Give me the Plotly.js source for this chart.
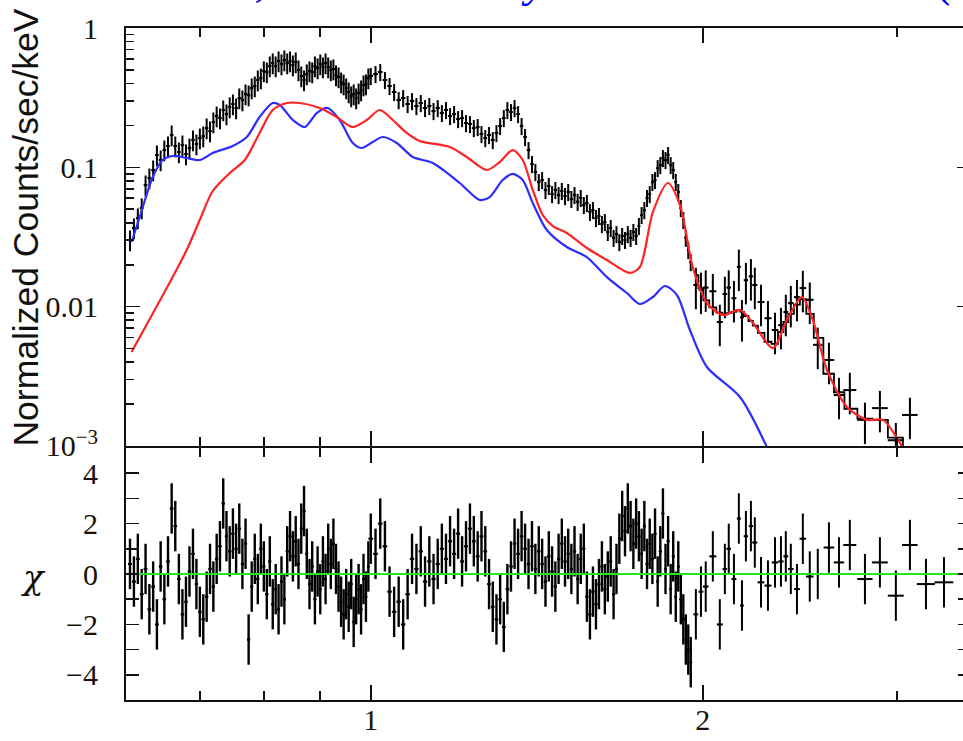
<!DOCTYPE html>
<html><head><meta charset="utf-8">
<script src="https://cdn.plot.ly/plotly-3.0.1.min.js"></script>
<style>html,body{margin:0;padding:0;overflow:hidden;background:#fff}#plot{width:980px;height:741px}</style>
</head><body><div id="plot"></div>
<script>
// ---- energy grid (keV), bin centres ----
const energyA = [0.605,0.610,0.615,0.620,0.625,0.630,0.635,0.640,0.645,0.650,0.655,0.660,0.665,0.670,0.675,0.680,0.685,0.690,0.695,0.700,0.705,0.710,0.715,0.720,0.725,0.730,0.735,0.740,0.745,0.750,0.755,0.760,0.765,0.770,0.775,0.780,0.785,0.790,0.795,0.800,0.805,0.810,0.815,0.820,0.825,0.830,0.835,0.840,0.845,0.850,0.855,0.860,0.865,0.870,0.875,0.880,0.885,0.890,0.895,0.900,0.905,0.910,0.915,0.920,0.925,0.930,0.935,0.940,0.945,0.950,0.955,0.960,0.965,0.970,0.975,0.980,0.985,0.990,0.995];
const halfWidthA = 0.0025;
const countsA = [0.0301,0.0367,0.0433,0.0511,0.0747,0.0839,0.0957,0.1226,0.1129,0.1331,
0.1422,0.1706,0.1422,0.1289,0.1446,0.1247,0.1376,0.1570,0.1470,0.1623,
0.1678,0.1916,0.1822,0.2115,0.2335,0.2259,0.2579,0.2414,0.2710,0.2848,
0.2665,0.3146,0.3042,0.3360,0.3304,0.3710,0.3835,0.4234,0.4376,0.4920,
0.4837,0.5340,0.5610,0.5340,0.5800,0.5520,0.5890,0.5610,0.5800,0.5427,
0.5700,0.5000,0.4525,0.4234,0.4677,0.4920,0.4837,0.5340,0.5170,0.5520,
0.5250,0.5610,0.5250,0.5000,0.5080,0.4600,0.4453,0.4096,0.3963,0.3710,
0.3472,0.3251,0.3360,0.3146,0.3415,0.3590,0.3899,0.3963,0.4376];
const chiA = [0.4,-0.3,0.6,-0.8,0.2,-1.4,-0.5,-2.0,0.3,-1.0,
0.5,2.6,1.9,-0.2,-1.6,-1.1,0.1,0.8,-0.4,-1.5,
-1.8,-0.9,0.2,-0.5,0.6,1.1,2.8,1.5,0.9,1.6,
1.0,1.8,0.4,1.2,-2.6,-0.5,0.6,-0.2,1.0,0.3,
-0.8,0.5,-1.2,-0.6,-1.4,-0.3,-1.0,0.9,1.5,0.7,
1.3,0.4,1.8,2.5,0.8,-0.4,0.3,-1.0,0.1,-0.6,
0.5,-0.2,1.0,0.4,1.2,0.2,-0.5,-1.1,-1.6,-0.8,
-1.3,-0.4,-1.9,-1.0,-0.6,-1.4,-0.2,-0.9,0.3];

const energyB = [1.00,1.01,1.02,1.03,1.04,1.05,1.06,1.07,1.08,1.09,1.10,1.11,1.12,1.13,1.14,1.15,1.16,1.17,1.18,1.19,1.20,1.21,1.22,1.23,1.24,1.25,1.26,1.27,1.28,1.29,1.30,1.31,1.32,1.33,1.34,1.35,1.36,1.37,1.38,1.39,1.40,1.41,1.42,1.43,1.44,1.45,1.46,1.47,1.48,1.49,1.50,1.51,1.52,1.53,1.54,1.55,1.56,1.57,1.58,1.59,1.60,1.61,1.62,1.63,1.64,1.65,1.66,1.67,1.68,1.69,1.70,1.71,1.72,1.73,1.74,1.75,1.76,1.77,1.78,1.79,1.80,1.81,1.82,1.83,1.84,1.85,1.86,1.87,1.88,1.89,1.90,1.91,1.92,1.93,1.94,1.95];
const halfWidthB = 0.005;
const countsB = [0.4525,0.4677,0.4837,0.4234,0.3835,0.3472,0.3042,0.3146,0.2848,0.2992,
0.2755,0.2896,0.2665,0.2755,0.2537,0.2665,0.2455,0.2579,0.2335,0.2414,
0.2222,0.2259,0.2080,0.2046,0.1916,0.1948,0.1734,0.1623,0.1706,0.1570,
0.1764,0.1980,0.2259,0.2579,0.2496,0.2665,0.2414,0.1980,0.1651,0.1331,
0.1057,0.0926,0.0785,0.0811,0.0688,0.0735,0.0643,0.0688,0.0633,0.0677,
0.0623,0.0666,0.0593,0.0633,0.0566,0.0603,0.0537,0.0555,0.0479,0.0494,
0.0433,0.0448,0.0392,0.0405,0.0344,0.0367,0.0312,0.0332,0.0291,0.0322,
0.0301,0.0332,0.0312,0.0344,0.0322,0.0380,0.0455,0.0494,0.0603,0.0643,
0.0785,0.0811,0.0988,0.1039,0.1167,0.1129,0.1226,0.1039,0.0957,0.0785,
0.0666,0.0511,0.0419,0.0312,0.0255,0.0209];
const chiB = [1.4,0.8,2.0,1.1,-0.7,-1.5,-1.1,-2.0,-0.8,0.6,
0.2,0.9,-0.3,0.5,-0.2,0.4,1.0,0.6,1.3,0.8,
1.6,0.5,1.1,1.8,1.3,0.7,1.5,0.9,-0.4,-1.3,
-1.8,-1.0,-2.1,-0.6,0.3,1.2,0.8,1.5,1.0,0.4,
1.1,0.2,0.9,0.4,-0.3,0.7,0.1,-0.5,0.6,1.2,
0.5,0.8,0.2,0.9,-0.2,0.6,1.0,-0.9,-1.6,-0.7,
-1.2,-0.4,0.3,-0.6,-0.1,0.5,-0.8,0.2,1.4,2.3,
1.7,2.6,1.9,1.2,2.0,1.5,0.8,1.9,0.4,1.2,
0.6,1.6,-0.3,0.9,2.4,0.2,1.3,-0.6,0.7,-0.9,
0.3,-1.0,-1.8,-2.6,-3.0,-3.5];

const energyC = [1.971,1.992,2.012,2.042,2.072,2.094,2.111,2.134,2.156,2.170,2.188,2.211,2.229,2.258,2.291,2.325,2.354,2.378,2.403,2.434,2.464,2.500,2.542,2.602,2.657,2.718,2.805,2.894,2.992,3.081,3.186,3.308];
const halfWidthC = [0.010,0.010,0.012,0.015,0.013,0.010,0.010,0.011,0.009,0.008,0.010,0.010,0.012,0.016,0.017,0.016,0.013,0.012,0.014,0.015,0.017,0.020,0.025,0.029,0.029,0.037,0.045,0.048,0.050,0.050,0.060,0.065];
const countsC = [0.0143,0.0132,0.0137,0.0129,0.00776,0.01233,0.0137,0.0115,0.0193,0.00838,0.0155,0.0165,0.0143,0.0108,0.00826,0.0068,0.00737,0.00915,0.0106,0.0117,0.0136,0.0112,0.00532,0.00414,0.00232,0.00252,0.00154,0.00187,0.00110,0.00167,0.0007,0.0005];
const modelC = [0.0168,0.0136,0.0111,0.00987,0.00905,0.00881,0.00898,0.00918,0.00942,0.00916,0.00857,0.00789,0.00732,0.00648,0.00560,0.00540,0.00658,0.00776,0.00888,0.01033,0.01132,0.00889,0.00597,0.00330,0.00243,0.00185,0.00157,0.00154,0.00115,0.00080,0.00060,0.00050];
const chiC = [-1.6,-0.7,-0.5,0.7,-2.0,0.2,1.0,-0.2,2.2,-1.25,1.5,1.9,1.25,-0.33,-0.46,0.46,0.5,0.7,0.2,-0.6,1.4,-0.1,0.0,1.05,0.46,1.15,-0.2,0.46,-0.86,1.15,-0.4,-0.33];

// ---- model components ----
const redE = [0.607,0.6614,0.6824,0.6998,0.7191,0.7451,0.7688,0.7930,0.8149,0.8392,0.8622,0.8990,0.9314,0.9631,0.9917,1.0190,1.0470,1.0780,1.1076,1.1793,1.2218,1.2738,1.3089,1.3447,1.3732,1.4023,1.4318,1.4622,1.5055,1.5697,1.6368,1.7172,1.7536,1.8020,1.8591,1.9065,1.9590,2.0168,2.0856,2.1610,2.2204,2.3148,2.3835,2.4592,2.5160,2.5914,2.7018,2.8167,2.9125,3.0178,3.0493];
const redV = [0.004727,0.0163,0.02636,0.04188,0.06763,0.09107,0.1129,0.1764,0.2579,0.2895,0.2895,0.2665,0.2298,0.1948,0.2186,0.2579,0.2186,0.1764,0.1545,0.1399,0.1186,0.0957,0.1092,0.1331,0.1129,0.0688,0.0455,0.0379,0.0338,0.02636,0.02162,0.01745,0.01926,0.0478,0.0772,0.0537,0.01894,0.01063,0.00872,0.00946,0.00763,0.00505,0.00802,0.01173,0.00802,0.00351,0.001905,0.00154,0.00154,0.001051,0.000905];
const blueE = [0.607,0.6174,0.6345,0.6478,0.6614,0.6810,0.6998,0.7191,0.7497,0.7720,0.7930,0.8149,0.8271,0.8499,0.8713,0.8934,0.9141,0.9373,0.9631,0.9813,1.0042,1.0254,1.0558,1.0916,1.1381,1.2041,1.2552,1.2818,1.3170,1.3447,1.3732,1.4023,1.4440,1.5055,1.5697,1.6368,1.7066,1.7536,1.8020,1.8475,1.8945,1.9466,2.0168,2.1610,2.2856];
const blueV = [0.0291,0.0440,0.0852,0.1129,0.1206,0.1167,0.1129,0.1267,0.1423,0.1651,0.2298,0.2895,0.2802,0.2186,0.1948,0.2454,0.2665,0.2186,0.1495,0.1376,0.1520,0.1651,0.1495,0.1186,0.1074,0.0772,0.0583,0.0612,0.0811,0.0896,0.0811,0.0554,0.0355,0.0268,0.0227,0.0163,0.01253,0.01045,0.01173,0.01407,0.01213,0.00680,0.00369,0.002247,0.000984];

// ---- tick labels ----
const xTickVals = [1, 2];
const xTickText = ['1', '2'];
const xMinorVals = [0.7, 0.8, 0.9, 3];
const yTopTickVals = [0.001, 0.01, 0.1, 1];
const yTopTickText = ['10<sup>\u22123</sup>', '0.01', '0.1', '1'];
const yTopMinorVals = [0.002,0.003,0.004,0.005,0.006,0.007,0.008,0.009,0.02,0.03,0.04,0.05,0.06,0.07,0.08,0.09,0.2,0.3,0.4,0.5,0.6,0.7,0.8,0.9];
const chiTickVals = [-4,-2,0,2,4];
const chiTickText = ['\u22124','\u22122','0','2','4'];
const chiMinorVals = [-3,-1,1,3];

const INK = '#111';
const serif = 'Liberation Serif, Times New Roman, serif';
const eb = (extra) => Object.assign({width:0, thickness:2, color:'black'}, extra);
const mk = {size:3, color:'black'};

const traces = [
  // top panel data
  {x:energyA, y:countsA, xaxis:'x2', yaxis:'y2', type:'scatter', mode:'markers', marker:mk,
   error_y:eb({type:'percent', value:17}), error_x:eb({type:'constant', value:halfWidthA})},
  {x:energyB, y:countsB, xaxis:'x2', yaxis:'y2', type:'scatter', mode:'markers', marker:mk,
   error_y:eb({type:'percent', value:14}), error_x:eb({type:'constant', value:halfWidthB})},
  {x:energyC, y:countsC, xaxis:'x2', yaxis:'y2', type:'scatter', mode:'markers', marker:mk,
   error_y:eb({type:'percent', value:33}), error_x:eb({type:'data', array:halfWidthC})},
  {x:energyC, y:modelC, xaxis:'x2', yaxis:'y2', type:'scatter', mode:'lines',
   line:{color:'black', width:1.8, shape:'hvh'}},
  {x:blueE, y:blueV, xaxis:'x2', yaxis:'y2', type:'scatter', mode:'lines',
   line:{color:'rgb(45,45,255)', width:2.2, shape:'spline', smoothing:0.8}},
  {x:redE, y:redV, xaxis:'x2', yaxis:'y2', type:'scatter', mode:'lines',
   line:{color:'rgb(255,35,35)', width:2.2, shape:'spline', smoothing:0.8}},
  // residuals
  {x:energyA, y:chiA, xaxis:'x', yaxis:'y', type:'scatter', mode:'markers', marker:mk,
   error_y:eb({type:'constant', value:1, thickness:2.4}), error_x:eb({type:'constant', value:halfWidthA})},
  {x:energyB, y:chiB, xaxis:'x', yaxis:'y', type:'scatter', mode:'markers', marker:mk,
   error_y:eb({type:'constant', value:1, thickness:2.4}), error_x:eb({type:'constant', value:halfWidthB})},
  {x:energyC, y:chiC, xaxis:'x', yaxis:'y', type:'scatter', mode:'markers', marker:mk,
   error_y:eb({type:'constant', value:1}), error_x:eb({type:'data', array:halfWidthC})},
  {x:[0.6, 3.5], y:[0, 0], xaxis:'x', yaxis:'y', type:'scatter', mode:'lines',
   line:{color:'rgb(30,235,30)', width:2}}
];

const common = {showline:true, linecolor:INK, linewidth:2, mirror:'ticks', ticks:'inside',
  tickcolor:INK, tickwidth:1.6, showgrid:false, zeroline:false,
  tickfont:{family:serif, size:30, color:'#1a1208'}};
const minorStyle = {tickmode:'array', ticks:'inside', tickwidth:1.6, tickcolor:INK, showgrid:false};

const xRange = [Math.log10(0.6), Math.log10(3.5)];
const layout = {
  width:980, height:741,
  margin:{l:126, r:9, t:28, b:41},
  paper_bgcolor:'white', plot_bgcolor:'white', showlegend:false,
  xaxis: Object.assign({}, common, {type:'log', range:xRange, anchor:'y', domain:[0,1],
    tickmode:'array', tickvals:xTickVals, ticktext:xTickText, ticklen:15, ticklabelstandoff:-8,
    minor:Object.assign({}, minorStyle, {tickvals:xMinorVals, ticklen:9})}),
  xaxis2: Object.assign({}, common, {type:'log', range:xRange, anchor:'y2', domain:[0,1], matches:'x',
    tickmode:'array', tickvals:xTickVals, ticktext:xTickText, ticklen:15, showticklabels:false,
    minor:Object.assign({}, minorStyle, {tickvals:xMinorVals, ticklen:9})}),
  yaxis: Object.assign({}, common, {domain:[0,0.375], range:[-5,5], anchor:'x',
    tickmode:'array', tickvals:chiTickVals, ticktext:chiTickText, ticklen:13, ticklabelstandoff:20,
    minor:Object.assign({}, minorStyle, {tickvals:chiMinorVals, ticklen:13})}),
  yaxis2: Object.assign({}, common, {type:'log', domain:[0.378,1], range:[-3,0], anchor:'x2',
    tickmode:'array', tickvals:yTopTickVals, ticktext:yTopTickText, ticklen:14, ticklabelstandoff:20,
    minor:Object.assign({}, minorStyle, {tickvals:yTopMinorVals, ticklen:8})}),
  annotations:[
    {text:'Normalized Counts/sec/keV', xref:'paper', yref:'paper', x:-0.1195, y:0.7031,
     xanchor:'center', yanchor:'middle', textangle:-90, showarrow:false,
     font:{family:'Liberation Sans, Arial, sans-serif', size:35.5, color:'#111'}},
    {text:'<i>\u03c7</i>', xref:'paper', yref:'paper', x:-0.110, y:0.183,
     xanchor:'center', yanchor:'middle', showarrow:false,
     font:{family:'DejaVu Serif, serif', size:34, color:'#111'}},
    {text:'<i>Result, red is hot only and blue is the cool (ISM) component</i>', xref:'paper', yref:'paper',
     x:0.0095, y:1, xanchor:'left', yanchor:'bottom', yshift:20, showarrow:false,
     font:{family:serif, size:47, color:'rgb(0,0,255)'}}
  ]
};

Plotly.newPlot('plot', traces, layout, {staticPlot:true, displayModeBar:false});
</script></body></html>
